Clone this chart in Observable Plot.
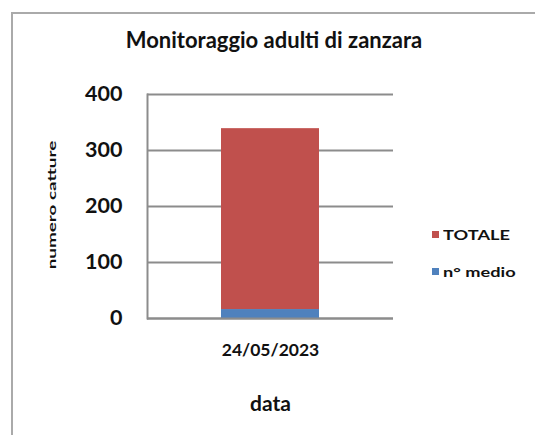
<!DOCTYPE html>
<html><head><meta charset="utf-8">
<script src="https://cdn.jsdelivr.net/npm/d3@7"></script>
<script src="https://cdn.jsdelivr.net/npm/@observablehq/plot@0.6"></script>
<style>
body{margin:0;background:#fff;font-family:Lato, "Open Sans", sans-serif;}
#wrap{position:relative;width:535px;height:435px;overflow:hidden;background:#fff;}
#frame{position:absolute;left:11px;top:12px;width:600px;height:600px;border:2px solid #aaa;box-sizing:border-box;}
#title{position:absolute;left:0;top:27px;width:548px;text-align:center;font-weight:bold;font-size:22px;line-height:26px;color:#111;}
#plot{position:absolute;left:0;top:0;}
#ylab{position:absolute;left:52px;top:205px;font-size:13px;font-weight:bold;color:#111;white-space:nowrap;transform:translate(-50%,-50%) rotate(-90deg) scale(1.45,0.8);}
#legend{position:absolute;left:432px;top:224px;font-size:14px;font-weight:bold;color:#111;}
.li{display:flex;align-items:center;height:20px;margin-bottom:17px;}
.sw{width:7px;height:7px;margin-right:4px;}
.lt{display:inline-block;transform:scaleX(1.3);transform-origin:left center;}
</style></head>
<body>
<div id="wrap">
  <div id="frame"></div>
  <div id="title">Monitoraggio adulti di zanzara</div>
  <div id="plot"></div>
  <div id="ylab">numero catture</div>
  <div id="legend"></div>
</div>
<script>
const categories = ["24/05/2023"];
const series = ["n° medio", "TOTALE"];
const nMedio = [16];
const totale = [323];
const colors = ["#4F81BD", "#C0504D"];
const yTicks = [0, 100, 200, 300, 400];

const rows = [];
categories.forEach((c, i) => {
  rows.push({data: c, serie: series[0], v: nMedio[i]});
  rows.push({data: c, serie: series[1], v: totale[i]});
});

const chart = Plot.plot({
  width: 535, height: 435,
  marginLeft: 147, marginRight: 142, marginTop: 94, marginBottom: 117,
  style: {fontFamily: "Lato, 'Open Sans', sans-serif", fontSize: "18px", fontWeight: "bold", color: "#111", background: "transparent"},
  x: {domain: categories, paddingInner: 0.6, paddingOuter: 0.3},
  y: {domain: [0, 400]},
  color: {domain: series, range: colors},
  marks: [
    Plot.gridY(yTicks, {stroke: "#8c8c8c", strokeOpacity: 1, strokeWidth: 2}),
    Plot.barY(rows, {x: "data", y: "v", fill: "serie", order: series}),
    Plot.frame({anchor: "left", stroke: "#8c8c8c", strokeWidth: 2}),
    Plot.ruleY([0], {stroke: "#8c8c8c", strokeWidth: 2}),
    Plot.axisY({ticks: yTicks, tickSize: 0, tickPadding: 25, label: null, fontSize: 21.5}),
    Plot.axisX({tickSize: 0, tickPadding: 25, label: "data", labelArrow: "none", labelAnchor: "center", labelOffset: 92, fontSize: 17.5}),
  ]
});
// enlarge the x-axis title only
chart.querySelectorAll('g[aria-label="x-axis label"] text').forEach(t => t.setAttribute("font-size", "21"));
document.getElementById("plot").appendChild(chart);

const leg = document.getElementById("legend");
[1, 0].forEach(i => {
  const d = document.createElement("div");
  d.className = "li";
  d.innerHTML = `<span class="sw" style="background:${colors[i]}"></span><span class="lt">${series[i]}</span>`;
  leg.appendChild(d);
});
</script>
</body></html>
